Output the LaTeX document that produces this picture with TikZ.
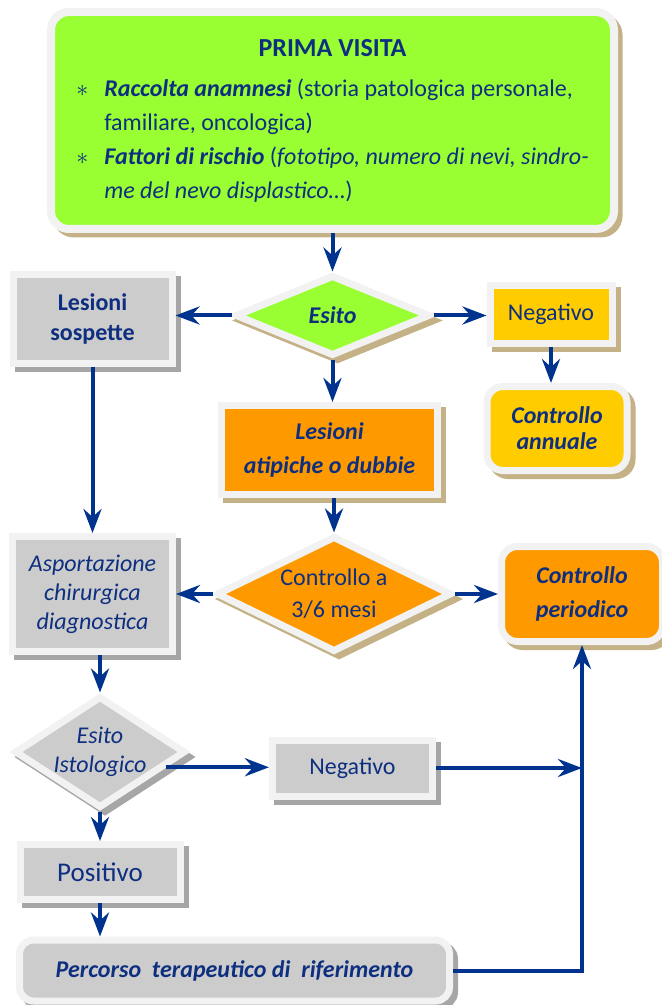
\documentclass[tikz,border=0pt]{standalone}
\usepackage{fontspec}
\setmainfont{Carlito}
\usetikzlibrary{shapes.geometric,shadows,arrows.meta}

\definecolor{textblue}{RGB}{14,47,127}
\definecolor{arrowblue}{RGB}{0,51,141}
\definecolor{framegrey}{RGB}{242,242,242}
\definecolor{shadowtan}{RGB}{196,178,134}
\definecolor{shadowgrey}{RGB}{166,166,166}
\definecolor{visitagreen}{RGB}{153,255,51}
\definecolor{orangefill}{RGB}{255,153,0}
\definecolor{yellowfill}{RGB}{255,204,0}
\definecolor{boxgrey}{RGB}{204,204,204}

\begin{document}
\begin{tikzpicture}[
     x=0.5pt, y=-0.5pt,
     box/.style={rectangle, draw=framegrey, line width=3.5pt, text=textblue,
       align=center, inner sep=0pt, font=\fontsize{12}{15}\selectfont,
       drop shadow={shadow xshift=2.5pt, shadow yshift=-2.5pt, opacity=1,
         fill=#1, draw=#1, line width=3.5pt}},
     box/.default=shadowtan,
     decision/.style={box=#1, diamond, aspect=2},
     decision/.default=shadowtan,
     bolditalic/.style={font=\fontsize{12}{#1}\selectfont\bfseries\itshape},
     bolditalic/.default=15,
     flow/.style={draw=arrowblue, line width=2pt,
       -{Stealth[length=12pt,width=9pt,inset=4pt]}}
   ]
   \useasboundingbox (0,0) rectangle (662,1005);
   % First visit.
   \node[box, fill=visitagreen, line width=4pt, rounded corners=9pt,
     minimum width=281.5pt, minimum height=108.5pt] (visita) at (332.5,120.5) {%
     \def\arraystretch{1.133}%
     \begin{tabular}{@{}c@{\hspace{8pt}}l@{}}
       \multicolumn{2}{c}{\fontsize{13}{15}\selectfont\bfseries PRIMA VISITA}\\[3pt]
       $\ast$ & \textbf{\textit{Raccolta anamnesi}} (storia patologica personale,\\
              & familiare, oncologica)\\
       $\ast$ & \textbf{\textit{Fattori di rischio}} (\textit{fototipo, numero di nevi, sindro-}\\
              & \textit{me del nevo displastico\dots})
     \end{tabular}};
   % Outcome of the visit.
   \node[decision, fill=visitagreen, minimum width=97.5pt, minimum height=40.5pt, bolditalic]
     (esito) at (332.5,315.5) {Esito};
   \node[box=shadowgrey, fill=boxgrey, minimum width=79.5pt, minimum height=44pt,
     font=\fontsize{12}{15}\selectfont\bfseries] (sospette) at (92.5,319) {Lesioni\\sospette};
   \node[box, fill=yellowfill, minimum width=61pt, minimum height=28.5pt]
     (negativo) at (551,314.5) {Negativo};
   \node[box, fill=yellowfill, rounded corners=8pt, minimum width=70pt, minimum height=42pt,
     bolditalic=13] (annuale) at (557,428.5) {Controllo\\annuale};
   \node[box, fill=orangefill, minimum width=108pt, minimum height=44.5pt,
     bolditalic=17] (atipiche) at (329.5,450) {Lesioni\\atipiche o dubbie};
   % Follow-up.
   \node[decision, fill=orangefill, minimum width=117.5pt, minimum height=58pt,
     font=\fontsize{12}{16}\selectfont] (controllo) at (334,594) {Controllo a\\3/6 mesi};
   \node[box=shadowgrey, fill=boxgrey, minimum width=80pt, minimum height=57.5pt,
     font=\fontsize{12}{14.5}\selectfont\itshape] (asportazione) at (92.5,594) {Asportazione\\chirurgica\\diagnostica};
   \node[box, fill=orangefill, rounded corners=8pt, minimum width=80.5pt, minimum height=47.5pt,
     bolditalic=17] (periodico) at (582,594) {Controllo\\periodico};
   % Histology.
   \node[decision=shadowgrey, fill=boxgrey, aspect=1.53, minimum width=85.5pt, minimum height=56pt,
     font=\fontsize{12}{14.5}\selectfont\itshape] (istologico) at (100,752) {Esito\\Istologico};
   \node[box=shadowgrey, fill=boxgrey, minimum width=80pt, minimum height=28pt]
     (negistologico) at (352.5,768) {Negativo};
   \node[box=shadowgrey, fill=boxgrey, minimum width=80pt, minimum height=27.5pt,
     font=\fontsize{13.5}{15}\selectfont] (positivo) at (100,872) {Positivo};
   \node[box=shadowgrey, fill=boxgrey, rounded corners=7pt, minimum width=215pt, minimum height=30.5pt,
     bolditalic] (percorso) at (234.5,970.5) {Percorso\ \ terapeutico di\ \ riferimento};
   % Arrows.
   \draw[flow] (visita.south -| esito.north) -- (esito.north);
   \draw[flow] (esito.west) -- (sospette.east |- esito.west);
   \draw[flow] (esito.east) -- (negativo.west |- esito.east);
   \draw[flow] (negativo.south) -- (negativo.south |- annuale.north);
   \draw[flow] (esito.south) -- (esito.south |- atipiche.north);
   \draw[flow] (atipiche.south -| controllo.north) -- (controllo.north);
   \draw[flow] (sospette.south) -- (asportazione.north);
   \draw[flow] (controllo.west) -- (asportazione.east |- controllo.west);
   \draw[flow] (controllo.east) -- (periodico.west |- controllo.east);
   \draw[flow] (asportazione.south -| istologico.north) -- (istologico.north);
   \draw[flow] (istologico.-13) -- (istologico.-13 -| negistologico.west);
   \draw[flow] (negistologico.east) -- (negistologico.east -| periodico.south);
   \draw[flow] (istologico.south) -- (istologico.south |- positivo.north);
   \draw[flow] (positivo.south) -- (positivo.south |- percorso.north);
   \draw[flow] (percorso.east) -| (periodico.south);
 \end{tikzpicture}
\end{document}
